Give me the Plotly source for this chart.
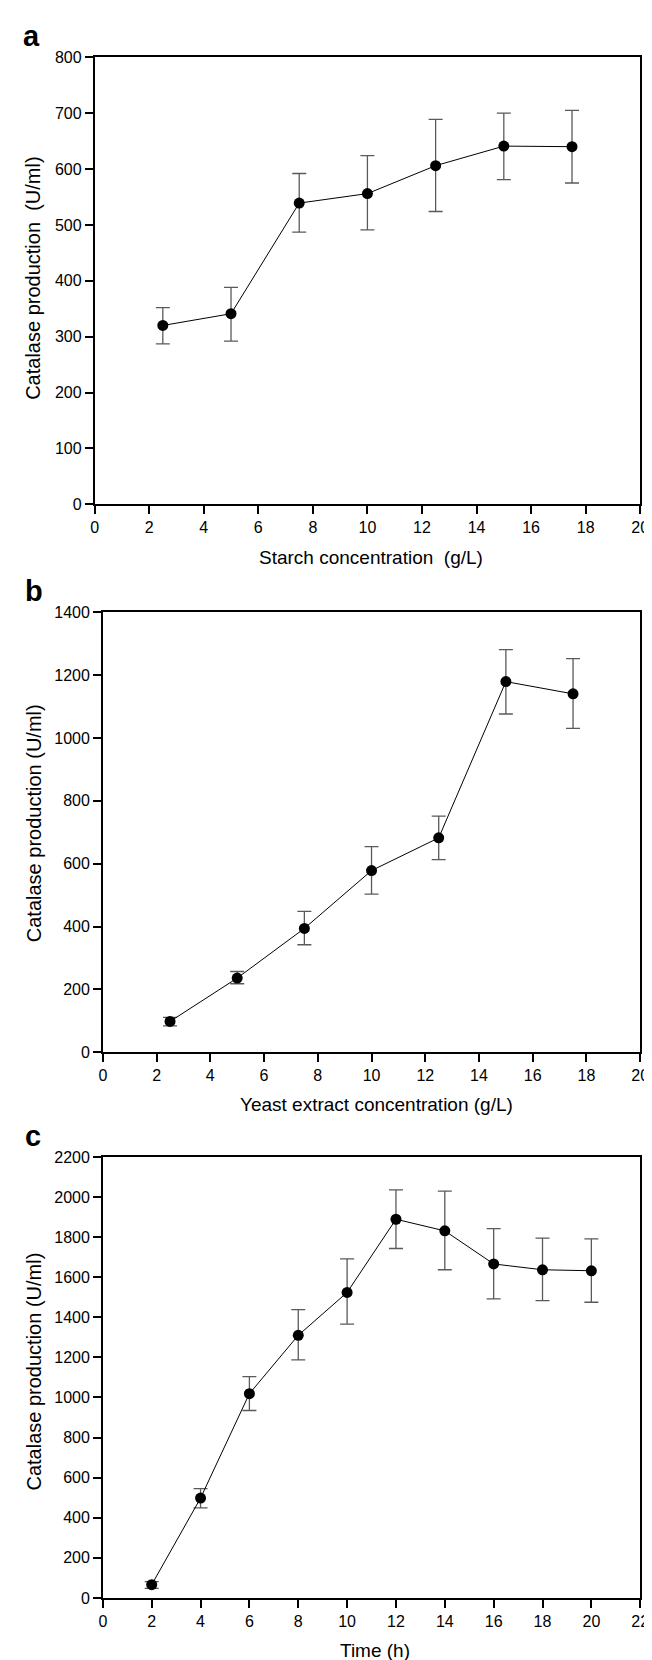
import plotly.graph_objects as go

W, H = 652, 1660

# ---------------- data ----------------
starch_x = [2.5, 5, 7.5, 10, 12.5, 15, 17.5]
starch_y = [320, 341, 539, 556, 606, 641, 640]
starch_err_plus = [32, 47, 53, 68, 83, 59, 65]
starch_err_minus = [33, 49, 52, 65, 82, 60, 65]

yeast_x = [2.5, 5, 7.5, 10, 12.5, 15, 17.5]
yeast_y = [98, 236, 394, 578, 682, 1179, 1140]
yeast_err_plus = [13, 21, 54, 76, 69, 102, 112]
yeast_err_minus = [14, 18, 52, 75, 69, 103, 110]

time_x = [2, 4, 6, 8, 10, 12, 14, 16, 18, 20]
time_y = [66, 498, 1019, 1310, 1524, 1889, 1831, 1666, 1637, 1632]
time_err_plus = [15, 47, 85, 128, 167, 147, 198, 176, 158, 159]
time_err_minus = [18, 49, 84, 122, 158, 146, 194, 174, 154, 157]

panel_labels = ["a", "b", "c"]
x_titles = ["Starch concentration  (g/L)", "Yeast extract concentration (g/L)", "Time (h)"]
y_title_a = "Catalase production  (U/ml)"
y_title = "Catalase production (U/ml)"

# ---------------- layout geometry (pixels) ----------------
def px_x(v):
    return v / W

def px_y(v):
    return 1 - v / H

panels = [
    dict(x0=84.3, x1=641, y0=41.7, y1=493.3, xr=[0, 20], yr=[0, 800], ydt=100),
    dict(x0=92.7, x1=641, y0=602.3, y1=1047, xr=[0, 20], yr=[0, 1400], ydt=200),
    dict(x0=92.7, x1=641, y0=1152.7, y1=1598.3, xr=[0, 22], yr=[0, 2200], ydt=200),
]

FONT = "Arial, Liberation Sans, sans-serif"

fig = go.Figure()

series = [
    (starch_x, starch_y, starch_err_plus, starch_err_minus),
    (yeast_x, yeast_y, yeast_err_plus, yeast_err_minus),
    (time_x, time_y, time_err_plus, time_err_minus),
]

for i, (xs, ys, ep, em) in enumerate(series):
    sfx = "" if i == 0 else str(i + 1)
    fig.add_trace(go.Scatter(
        x=xs, y=ys, mode="lines+markers",
        xaxis="x" + sfx, yaxis="y" + sfx,
        line=dict(color="black", width=1),
        marker=dict(color="black", size=11),
        error_y=dict(type="data", array=ep, arrayminus=em, symmetric=False,
                     color="#5a5a5a", thickness=1.3, width=7),
        showlegend=False,
        cliponaxis=False,
    ))

layout = dict(
    width=W, height=H, autosize=False,
    margin=dict(l=0, r=0, t=0, b=0),
    paper_bgcolor="white", plot_bgcolor="white",
    font=dict(family=FONT, color="black", size=16),
    showlegend=False,
)

annotations = []
for i, p in enumerate(panels):
    sfx = "" if i == 0 else str(i + 1)
    ax_common = dict(
        showgrid=False, zeroline=False, showline=True, mirror=True,
        linecolor="black", linewidth=1.6,
        ticks="outside", ticklen=8, tickwidth=1.6, tickcolor="black",
        tickfont=dict(family=FONT, size=16, color="black"),
        fixedrange=True,
    )
    layout["xaxis" + sfx] = dict(
        ax_common, domain=[px_x(p["x0"]), px_x(p["x1"])],
        range=p["xr"], dtick=2, tick0=0,
        anchor="y" + sfx,
    )
    layout["yaxis" + sfx] = dict(
        ax_common, domain=[px_y(p["y1"]), px_y(p["y0"])],
        range=p["yr"], dtick=p["ydt"], tick0=0,
        anchor="x" + sfx,
    )

# axis titles and panel letters as annotations placed in paper coordinates
xt_pos = [(366, 547), (372, 1100), (370, 1651)]
yt_pos = [(22, 265), (22, 816), (22, 1370)]
lab_pos = [(20, 20), (22, 581), (21, 1132)]
for i in range(3):
    annotations.append(dict(
        text=x_titles[i], x=px_x(xt_pos[i][0]), y=px_y(xt_pos[i][1]),
        xref="paper", yref="paper", xanchor="center", yanchor="middle",
        showarrow=False, font=dict(family=FONT, size=19, color="black"),
    ))
    annotations.append(dict(
        text=y_title_a if i == 0 else y_title,
        x=px_x(yt_pos[i][0]), y=px_y(yt_pos[i][1]),
        xref="paper", yref="paper", xanchor="center", yanchor="middle",
        textangle=-90, showarrow=False,
        font=dict(family=FONT, size=20, color="black"),
    ))
    annotations.append(dict(
        text="<b>" + panel_labels[i] + "</b>",
        x=px_x(lab_pos[i][0]), y=px_y(lab_pos[i][1]),
        xref="paper", yref="paper", xanchor="center", yanchor="middle",
        showarrow=False, font=dict(family=FONT, size=29, color="black"),
    ))

layout["annotations"] = annotations
fig.update_layout(**layout)

fig.write_html("out.html")
